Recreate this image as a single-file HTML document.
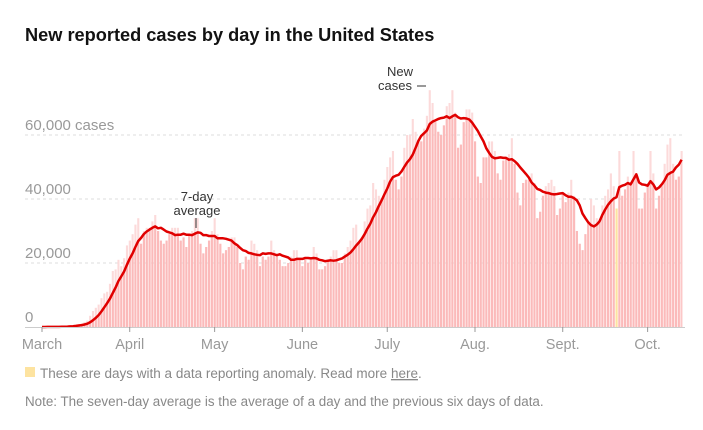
<!DOCTYPE html>
<html><head><meta charset="utf-8"><style>
body{margin:0;background:#fff;width:703px;height:425px;overflow:hidden;font-family:"Liberation Sans",sans-serif}
svg text{font-family:"Liberation Sans",sans-serif}
</style></head><body>
<svg id="c" width="703" height="425" xmlns="http://www.w3.org/2000/svg">
<text x="25" y="41" font-size="18.2" font-weight="bold" fill="#121212">New reported cases by day in the United States</text>
<g id="grid"></g>
<g id="bars"></g>
<g id="line"></g>
<g id="axis"></g>
<text x="197" y="201" font-size="13" fill="#333" text-anchor="middle">7-day</text>
<text x="197" y="215" font-size="13" fill="#333" text-anchor="middle">average</text>
<line x1="196" y1="218" x2="196" y2="228" stroke="#333" stroke-width="1"/>
<text x="400" y="76" font-size="13" fill="#333" text-anchor="middle">New</text>
<text x="412" y="90" font-size="13" fill="#333" text-anchor="end">cases</text>
<line x1="417" y1="86" x2="426" y2="86" stroke="#333" stroke-width="1"/>
<rect x="25" y="367" width="10" height="10" fill="#fde3a0"/>
<text x="40" y="378" font-size="13.5" fill="#888">These are days with a data reporting anomaly. Read more <tspan text-decoration="underline">here</tspan>.</text>
<text x="25" y="406" font-size="13.4" fill="#888">Note: The seven-day average is the average of a day and the previous six days of data.</text>
</svg>
<script>
const months=["March","April","May","June","July","Aug.","Sept.","Oct."];
const monthStartIdx=[0,31,61,92,122,153,184,214];
const yTicks=[0,20000,40000,60000];
const yTickLabels=["0","20,000","40,000","60,000 cases"];
const anomalyDays=[203];
const mar=[10,20,25,30,60,70,100,120,250,300,450,500,700,900,1100,1500,2000,3500,5000,6000,7000,9000,10500,11000,13500,17500,18000,21000,19000,21500,25500];
const apr=[27000,29000,32000,34000,26000,30000,31000,31000,33000,35000,30000,27000,26000,27000,29000,31000,31000,31000,27000,28000,25000,29000,30000,34000,34000,26000,23000,25000,27000,30000];
const may=[34000,29000,26000,23000,24000,25000,28000,28000,25000,20000,18000,22000,21000,27000,26000,24000,19000,22000,21000,22000,27000,24000,22000,21000,19000,19000,20000,22000,24000,24000,21000];
const jun=[19000,21000,20000,21000,25000,23000,18000,18000,19000,21000,22000,24000,24000,20000,20000,23000,25000,27000,31000,32000,27000,28000,33000,37000,38000,45000,43000,41000,40000,46000];
const jul=[50000,53000,55000,46000,43000,47000,56000,60000,60000,65000,61000,58000,58000,62000,66000,74000,70000,64000,61000,60000,63000,69000,70000,74000,67000,56000,57000,64000,68000,68000,67000];
const aug=[58000,47000,45000,53000,53000,58000,58000,55000,48000,46000,52000,53000,54000,59000,51000,42000,38000,45000,46000,46000,48000,45000,34000,36000,41000,44000,45000,46000,44000,35000,37000];
const sep=[42000,39000,42000,46000,41000,30000,26000,24000,29000,33000,40000,38000,34000,33000,38000,41000,43000,48000,44000,37000,55000,41000,43000,47000,45000,55000,48000,37000,37000,42000];
const oct=[45000,55000,48000,37000,41000,44000,51000,57000,59000,51000,46000,47000,55000];
const daily=[].concat(mar,apr,may,jun,jul,aug,sep,oct);
const NS="http://www.w3.org/2000/svg";
const X0=42,DX=2.83,Y0=327,YS=64/20000;
const x=i=>X0+i*DX, y=v=>Y0-v*YS;
function mk(t,a,p){const e=document.createElementNS(NS,t);for(const k in a)e.setAttribute(k,a[k]);p.appendChild(e);return e;}
const grid=document.getElementById('grid');
yTicks.forEach((t,k)=>{
  if(t>0){const l=mk('line',{x1:25,x2:683,y1:y(t),y2:y(t),stroke:'#ddd','stroke-dasharray':'3,3'},grid);
  
  }
  const tx=mk('text',{x:25,y:y(t)-5,'font-size':15,fill:'#999'},grid);tx.textContent=yTickLabels[k];
  
  
});
const avg=daily.map((v,i)=>{let s=0,n=0;for(let j=Math.max(0,i-6);j<=i;j++){s+=daily[j];n++;}return s/n;});
const bars=document.getElementById('bars');
const defs=mk('defs',{},bars);
const cp=mk('clipPath',{id:'under'},defs);
let d='M'+x(0)+','+Y0;avg.forEach((v,i)=>d+='L'+x(i).toFixed(1)+','+y(v).toFixed(1));d+='L'+x(daily.length-1)+','+Y0+'Z';
mk('path',{d:d},cp);
const light=mk('g',{},bars),dark=mk('g',{'clip-path':'url(#under)'},bars);
daily.forEach((v,i)=>{
  const an=anomalyDays.includes(i);
  const r=mk('rect',{x:x(i)-1,y:y(v),width:2.1,height:Y0-y(v),fill:an?'#fde3a0':'#fcdada'},light);
  
  
  const r2=mk('rect',{x:x(i)-1,y:y(v),width:2.1,height:Y0-y(v),fill:an?'#fde3a0':'#fbbaba'},dark);
  
  
});
let ld='';avg.forEach((v,i)=>ld+=(i?'L':'M')+x(i).toFixed(1)+','+y(v).toFixed(1));
const ln=mk('path',{d:ld,fill:'none',stroke:'#e00000','stroke-width':2.5,'stroke-linejoin':'round'},document.getElementById('line'));


const ax=document.getElementById('axis');
const bl=mk('line',{x1:25,x2:685,y1:Y0+0.5,y2:Y0+0.5,stroke:'#ccc'},ax);


months.forEach((m,k)=>{
  const xi=x(monthStartIdx[k]);
  const t=mk('line',{x1:xi,x2:xi,y1:Y0,y2:Y0+5,stroke:'#999'},ax);
  
  
  const tx=mk('text',{x:xi,y:Y0+22,'font-size':14.5,fill:'#999','text-anchor':'middle'},ax);tx.textContent=m;
  
  
});
</script>
</body></html>
